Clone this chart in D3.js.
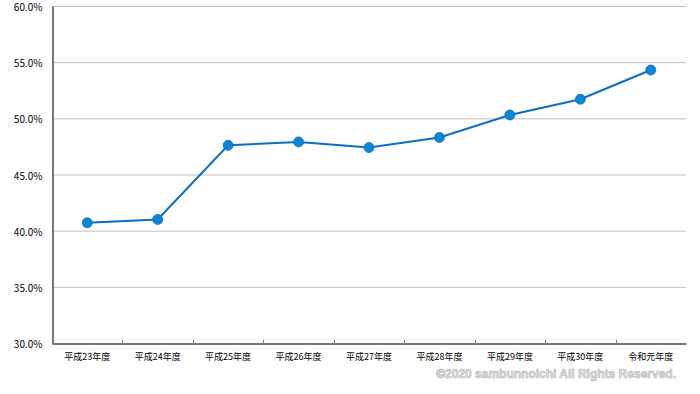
<!DOCTYPE html>
<html>
<head>
<meta charset="utf-8">
<script src="https://cdn.jsdelivr.net/npm/d3@7"></script>
<style>
  body { margin: 0; background: #fff; }
  svg { display: block; }
  .tick text { font-family: "Noto Sans CJK JP", "DejaVu Sans", sans-serif; fill: #000; }
</style>
</head>
<body>
<svg id="chart" width="700" height="394"></svg>
<script>
const years = ['平成23年度', '平成24年度', '平成25年度', '平成26年度', '平成27年度', '平成28年度', '平成29年度', '平成30年度', '令和元年度'];
const rates = [40.7, 41.0, 47.6, 47.9, 47.4, 48.3, 50.3, 51.7, 54.3];
const yTicks = [30, 35, 40, 45, 50, 55, 60];

const svg = d3.select('#chart');
const plotLeft = 52, plotRight = 686, plotTop = 6, plotBottom = 343;

const x = d3.scaleBand().domain(years).range([plotLeft, plotRight]);
const y = d3.scaleLinear().domain([30, 60]).range([plotBottom, plotTop]);

// gridlines
svg.append('g')
    .selectAll('line')
    .data(yTicks.filter(t => t > 30))
    .enter()
    .append('line')
    .attr('x1', plotLeft)
    .attr('x2', plotRight)
    .attr('y1', d => y(d) + 0.5)
    .attr('y2', d => y(d) + 0.5)
    .attr('stroke', '#c0c0c0')
    .attr('stroke-width', 1);

// y axis
let yAxis = svg.append('g')
    .attr('transform', 'translate(' + (plotLeft + 0.5) + ',0)')
    .call(d3.axisLeft(y).tickValues(yTicks).tickSize(0).tickPadding(10).tickFormat(d => d.toFixed(1) + '%'));
yAxis.select('.domain').attr('stroke', '#777').attr('stroke-width', 2);
yAxis.selectAll('text').style('font-size', '10px').attr('dy', '0.45em');

// x axis
let xAxis = svg.append('g')
    .attr('transform', 'translate(0,' + (plotBottom + 0.5) + ')')
    .call(d3.axisBottom(x).tickSize(0).tickPadding(10));
xAxis.select('.domain').attr('stroke', '#777').attr('stroke-width', 2);
xAxis.selectAll('text').style('font-size', '9px');

// category separator ticks
svg.append('g')
    .selectAll('line')
    .data(years.slice(1))
    .enter()
    .append('line')
    .attr('x1', d => Math.round(x(d)) + 0.5)
    .attr('x2', d => Math.round(x(d)) + 0.5)
    .attr('y1', plotBottom - 3)
    .attr('y2', plotBottom)
    .attr('stroke', '#777');

const cx = d => x(d) + x.bandwidth() / 2;

svg.append('path')
    .datum(years.map((d, i) => [cx(d), y(rates[i])]))
    .attr('fill', 'none')
    .attr('stroke', '#0a6fc2')
    .attr('stroke-width', 2)
    .attr('d', d3.line());

svg.append('g')
    .selectAll('circle')
    .data(years)
    .enter()
    .append('circle')
    .attr('cx', d => cx(d))
    .attr('cy', (d, i) => y(rates[i]))
    .attr('r', 5)
    .attr('fill', '#0a86d4')
    .attr('stroke', '#0a6fc2')
    .attr('stroke-width', 0.8);

// watermark
svg.append('text')
    .attr('x', 676)
    .attr('y', 378)
    .attr('text-anchor', 'end')
    .style('font-family', '"Liberation Sans", sans-serif')
    .style('font-size', '12px')
    .style('font-weight', 'bold')
    .attr('fill', '#e0e0e0')
    .attr('stroke', '#b8b8b8')
    .attr('stroke-width', 0.6)
    .text('©2020 sambunnoichi All Rights Reserved.');
</script>
</body>
</html>
